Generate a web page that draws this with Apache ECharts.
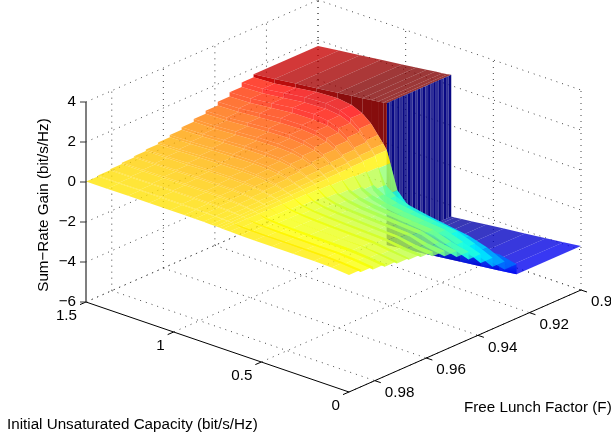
<!DOCTYPE html>
<html><head><meta charset="utf-8"><style>html,body{margin:0;padding:0;background:#fff}#c{width:611px;height:438px}</style>
<script src="https://cdn.jsdelivr.net/npm/echarts@6/dist/echarts.min.js"></script></head><body><div id="c"></div>
<script>
// Tick labels
const cTicks=[0,0.5,1,1.5];
const cLabels=['0','0.5','1','1.5'];
const fTicks=[0.98,0.96,0.94,0.92,0.9];
const fLabels=['0.98','0.96','0.94','0.92','0.9'];
const zTicks=[-6,-4,-2,0,2,4];
const zLabels=['\u22126','\u22124','\u22122','0','2','4'];
const xName='Initial Unsaturated Capacity (bit/s/Hz)';
const yName='Free Lunch Factor (F)';
const zName='Sum\u2212Rate Gain (bit/s/Hz)';
// Surface columns: capacity, far to near
const capacity=[1.5,1.38,1.26,1.14,1.02,0.94,0.88,0.83,0.79,0.76,0.74,0.72,0.68,0.62,0.54,0.44,0.32,0.2,0.1,0];
// Band edges of the stepped part of the surface
const lunchEdges=[0.925,0.9296,0.9343,0.9389,0.9436,0.9482,0.9529,0.9575,0.9621,0.9668,0.9714,0.9761,0.9807,0.9854,0.99];
// Gain per band (rows) and capacity (columns)
const band1=[1.55,1.6,1.75,1.9,1.95,1.85,1.62,1.25,0.8,0.45,0.19,-0.4,-1.63,-2.2,-2.55,-2.8,-3.05,-3.2,-3.1,-3.3];
const band2=[1.33,1.38,1.5,1.63,1.68,1.59,1.39,1.08,0.69,0.39,0.16,-0.34,-1.11,-1.5,-1.73,-1.9,-2.07,-2.24,-2.5,-2.9];
const band3=[1.12,1.15,1.26,1.37,1.4,1.33,1.17,0.9,0.58,0.32,0.14,-0.29,-0.85,-1.14,-1.33,-1.46,-1.59,-1.72,-2.05,-2.45];
const band4=[0.93,0.96,1.05,1.14,1.17,1.11,0.97,0.75,0.48,0.27,0.11,-0.24,-0.68,-0.92,-1.07,-1.18,-1.28,-1.39,-1.7,-2];
const band5=[0.78,0.8,0.88,0.95,0.98,0.93,0.81,0.63,0.4,0.23,0.1,-0.2,-0.55,-0.75,-0.87,-0.95,-1.04,-1.12,-1.42,-1.62];
const band6=[0.64,0.66,0.72,0.78,0.8,0.76,0.66,0.51,0.33,0.18,0.08,-0.16,-0.46,-0.62,-0.71,-0.78,-0.85,-0.92,-1.18,-1.32];
const band7=[0.51,0.53,0.58,0.63,0.64,0.61,0.53,0.41,0.26,0.15,0.06,-0.13,-0.37,-0.51,-0.59,-0.64,-0.7,-0.76,-0.97,-1.05];
const band8=[0.4,0.42,0.46,0.49,0.51,0.48,0.42,0.33,0.21,0.12,0.05,-0.1,-0.31,-0.42,-0.48,-0.53,-0.58,-0.63,-0.78,-0.83];
const band9=[0.31,0.32,0.35,0.38,0.39,0.37,0.32,0.25,0.16,0.09,0.04,-0.08,-0.24,-0.33,-0.38,-0.42,-0.46,-0.5,-0.62,-0.7];
const band10=[0.23,0.24,0.26,0.29,0.29,0.28,0.24,0.19,0.12,0.07,0.03,-0.06,-0.19,-0.25,-0.29,-0.32,-0.35,-0.38,-0.5,-0.63];
const band11=[0.17,0.18,0.19,0.21,0.21,0.2,0.18,0.14,0.09,0.05,0.02,-0.04,-0.18,-0.24,-0.28,-0.31,-0.34,-0.36,-0.42,-0.52];
const band12=[0.11,0.11,0.12,0.13,0.14,0.13,0.11,0.09,0.06,0.03,0.01,-0.03,-0.11,-0.15,-0.18,-0.2,-0.21,-0.23,-0.3,-0.4];
const band13=[0.06,0.06,0.07,0.08,0.08,0.07,0.06,0.05,0.03,0.02,0.01,-0.02,-0.07,-0.09,-0.1,-0.11,-0.12,-0.13,-0.18,-0.26];
const band14=[0.02,0.02,0.03,0.03,0.03,0.03,0.02,0.02,0.01,0.01,0,-0.01,-0.02,-0.03,-0.04,-0.04,-0.05,-0.05,-0.08,-0.15];
const bands=[band1,band2,band3,band4,band5,band6,band7,band8,band9,band10,band11,band12,band13,band14];
// Flat part F 0.9 to 0.925: plateau above C=0.74, floor below it
const plateau=[1.7,1.83,1.96,2.09,2.22,2.31,2.37,2.43,2.47,2.51,2.54];
const floorGain=[-4.55,-4.53,-4.49,-4.43,-4.35,-4.25,-4.13,-4.01,-3.91,-3.8];
const flatF=[0.9,0.925];
const wallC=0.74;
const wallF=[0.9,0.901,0.902,0.903,0.904,0.905,0.906,0.907,0.908,0.909,0.91,0.911,0.912,0.913,0.914,0.915,0.916,0.917,0.918,0.919,0.92,0.921,0.922,0.923,0.924,0.925];

// Orthographic view of the axes box
const ORG=[349,392],CV=[-263,-90],FV=[232,-102],ZPX=20;
const CMAX=1.5,FNEAR=0.99,FFAR=0.9,ZMIN=-6,ZMAX=4;
function P(c,f,z){const a=c/CMAX,b=(FNEAR-f)/(FNEAR-FFAR);
 return [ORG[0]+a*CV[0]+b*FV[0],ORG[1]+a*CV[1]+b*FV[1]-ZPX*(z-ZMIN)];}
function jet(t){t=Math.max(0,Math.min(1,t));
 const r=Math.min(4*t-1.5,-4*t+4.5),g=Math.min(4*t-0.5,-4*t+3.5),b=Math.min(4*t+0.5,-4*t+2.5);
 const k=v=>Math.round(255*Math.max(0,Math.min(1,v)));return [k(r),k(g),k(b)];}
const CLO=-5,CHI=2.7,ALPHA=0.78;
const PLATEAU_SHADE=0.4,FLOOR_SHADE=-0.3,WALL_SHADE=-5;
function col(z,a){const c=jet((z-CLO)/(CHI-CLO));return 'rgba('+c[0]+','+c[1]+','+c[2]+','+a+')';}

const facets=[];
function quad(a,b,c,d,fill){facets.push({p:[P(...a),P(...b),P(...c),P(...d)],fill});}
const iWall=capacity.indexOf(wallC);
// plateau
for(let i=0;i<iWall;i++)quad([capacity[i],flatF[0],plateau[i]],[capacity[i+1],flatF[0],plateau[i+1]],[capacity[i+1],flatF[1],plateau[i+1]],[capacity[i],flatF[1],plateau[i]],col((plateau[i]+plateau[i+1])/2+PLATEAU_SHADE,ALPHA));
// wall at the jump
for(let k=0;k<wallF.length-1;k++)quad([wallC,wallF[k],plateau[iWall]],[wallC,wallF[k+1],plateau[iWall]],[wallC,wallF[k+1],floorGain[0]],[wallC,wallF[k],floorGain[0]],col(WALL_SHADE,k%2?0.82:0.97));
// floor
for(let i=0;i<floorGain.length-1;i++){const j=iWall+i;quad([capacity[j],flatF[0],floorGain[i]],[capacity[j+1],flatF[0],floorGain[i+1]],[capacity[j+1],flatF[1],floorGain[i+1]],[capacity[j],flatF[1],floorGain[i]],col((floorGain[i]+floorGain[i+1])/2+FLOOR_SHADE,ALPHA));}
// front face of the flat part, down to first band
for(let i=0;i<capacity.length-1;i++){
 if(i<iWall){
  quad([capacity[i],flatF[1],plateau[i]],[capacity[i+1],flatF[1],plateau[i+1]],[capacity[i+1],flatF[1],bands[0][i+1]],[capacity[i],flatF[1],bands[0][i]],col((plateau[i]+plateau[i+1])/2+PLATEAU_SHADE,0.95));
 }else{
  const f0=floorGain[i-iWall],f1=floorGain[i+1-iWall],b0=bands[0][i],b1=bands[0][i+1];
  const grad={type:'linear',x:0,y:0,x2:0,y2:1,colorStops:[{offset:0,color:col((b0+b1)/2,ALPHA)},{offset:1,color:col((f0+f1)/2+FLOOR_SHADE,0.9)}]};
  quad([capacity[i],flatF[1],b0],[capacity[i+1],flatF[1],b1],[capacity[i+1],flatF[1],f1],[capacity[i],flatF[1],f0],grad);
 }
}
// stepped bands
for(let b=0;b<bands.length;b++){
 const r=bands[b],n=bands[b+1];
 for(let i=0;i<capacity.length-1;i++)quad([capacity[i],lunchEdges[b],r[i]],[capacity[i+1],lunchEdges[b],r[i+1]],[capacity[i+1],lunchEdges[b+1],r[i+1]],[capacity[i],lunchEdges[b+1],r[i]],col((r[i]+r[i+1])/2,ALPHA));
 if(n)for(let i=0;i<capacity.length-1;i++)quad([capacity[i],lunchEdges[b+1],r[i]],[capacity[i+1],lunchEdges[b+1],r[i+1]],[capacity[i+1],lunchEdges[b+1],n[i+1]],[capacity[i],lunchEdges[b+1],n[i]],col((r[i]+r[i+1])/2,ALPHA));
}

// dotted grid
const gridLines=[];
zTicks.forEach(z=>{gridLines.push([[CMAX,FNEAR,z],[CMAX,FFAR,z]]);gridLines.push([[CMAX,FFAR,z],[0,FFAR,z]]);});
fTicks.forEach(f=>{gridLines.push([[CMAX,f,ZMIN],[0,f,ZMIN]]);gridLines.push([[CMAX,f,ZMIN],[CMAX,f,ZMAX]]);});
cTicks.forEach(c=>{gridLines.push([[c,FFAR,ZMIN],[c,FNEAR,ZMIN]]);gridLines.push([[c,FFAR,ZMIN],[c,FFAR,ZMAX]]);});

function lineItem(api,a,b,style){const p=api.coord(a),q=api.coord(b);return {type:'line',shape:{x1:p[0],y1:p[1],x2:q[0],y2:q[1]},style};}
const texts=[];
cTicks.forEach((c,i)=>{const p=P(c,FNEAR,ZMIN);texts.push({x:p[0]-9,y:p[1]+14,t:cLabels[i],a:'right'});});
fTicks.forEach((f,i)=>{const p=P(0,f,ZMIN);texts.push({x:p[0]+10,y:p[1]+12,t:fLabels[i],a:'left'});});
zTicks.forEach((z,i)=>{const p=P(CMAX,FNEAR,z);texts.push({x:p[0]-10,y:p[1],t:zLabels[i],a:'right'});});
texts.push({x:7,y:425,t:xName,a:'left'});
texts.push({x:464,y:408,t:yName,a:'left'});
texts.push({x:44,y:205,t:zName,a:'center',r:Math.PI/2});

const axisSegs=[];
axisSegs.push({a:P(CMAX,FNEAR,ZMIN),b:P(0,FNEAR,ZMIN),c:'#000',w:1});
axisSegs.push({a:P(0,FNEAR,ZMIN),b:P(0,FFAR,ZMIN),c:'#000',w:1});
axisSegs.push({a:P(CMAX,FNEAR,ZMIN),b:P(CMAX,FNEAR,ZMAX),c:'#555',w:1.5});
cTicks.forEach(c=>{const p=P(c,FNEAR,ZMIN);axisSegs.push({a:p,b:[p[0]-6,p[1]+2.6],c:'#000',w:1});});
fTicks.forEach(f=>{const p=P(0,f,ZMIN);axisSegs.push({a:p,b:[p[0]+6,p[1]+2],c:'#000',w:1});});
zTicks.forEach(z=>{const p=P(CMAX,FNEAR,z);axisSegs.push({a:p,b:[p[0]-6,p[1]],c:'#333',w:1});});

const chart=echarts.init(document.getElementById('c'),null,{renderer:'canvas'});
const FONT='15.2px "Liberation Sans", Arial, sans-serif';
chart.setOption({
 animation:false,
 grid:{left:0,right:0,top:0,bottom:0,containLabel:false},
 xAxis:{type:'value',min:0,max:611,show:false},
 yAxis:{type:'value',min:0,max:438,inverse:true,show:false},
 series:[
 {type:'custom',silent:true,clip:false,data:gridLines.map((_,i)=>[i]),
  renderItem:(p,api)=>{const g=gridLines[p.dataIndex];return lineItem(api,P(...g[0]),P(...g[1]),{stroke:'#444',lineWidth:1,lineDash:[1,5],fill:null});}},
 {type:'custom',silent:true,clip:false,data:facets.map((_,i)=>[i]),
  renderItem:(p,api)=>{const f=facets[p.dataIndex];return {type:'polygon',shape:{points:f.p.map(q=>api.coord(q))},style:{fill:f.fill}};}},
 {type:'custom',silent:true,clip:false,data:axisSegs.map((_,i)=>[i]),
  renderItem:(p,api)=>{const s=axisSegs[p.dataIndex];return lineItem(api,s.a,s.b,{stroke:s.c,lineWidth:s.w,fill:null});}},
 {type:'custom',silent:true,clip:false,data:texts.map((_,i)=>[i]),
  renderItem:(p,api)=>{const t=texts[p.dataIndex],q=api.coord([t.x,t.y]);return {type:'text',x:q[0],y:q[1],rotation:t.r||0,style:{text:t.t,font:FONT,fill:'#000',align:t.a,verticalAlign:'middle'}};}}
 ]
});
</script></body></html>
